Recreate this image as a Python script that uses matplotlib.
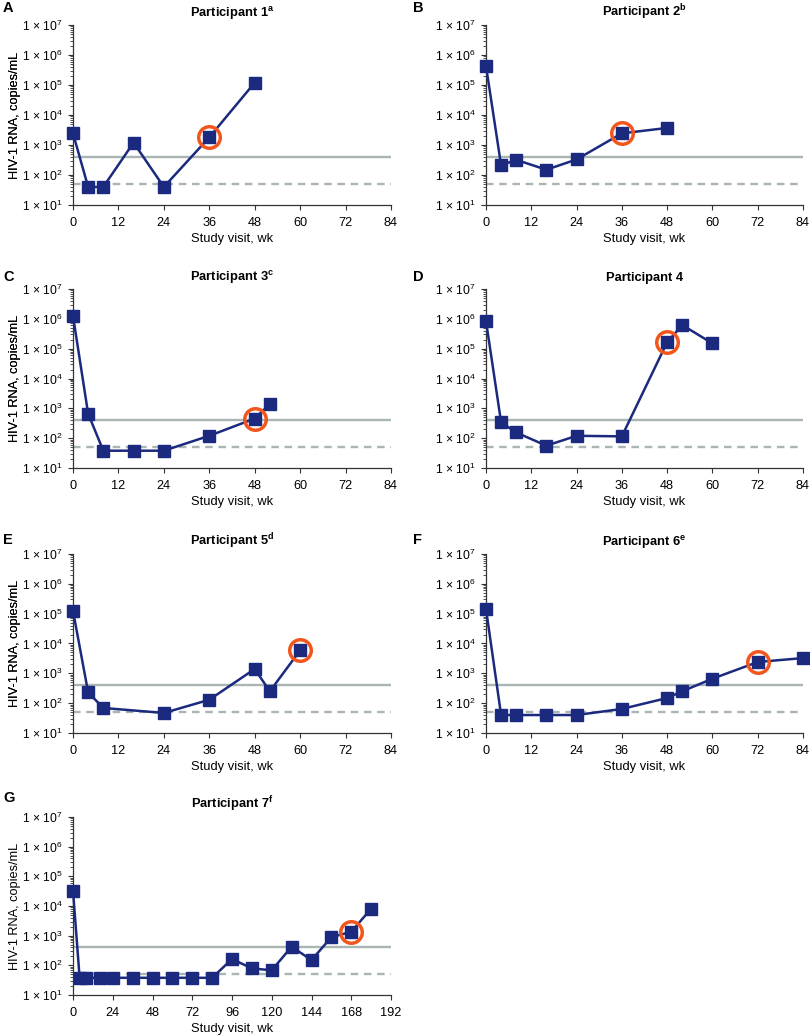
import matplotlib
matplotlib.use("Agg")
import matplotlib.pyplot as plt
from matplotlib.ticker import LogLocator, FixedLocator, FuncFormatter, NullFormatter

plt.rcParams['font.family'] = ['Liberation Sans', 'DejaVu Sans']
plt.rcParams['mathtext.fontset'] = 'custom'
plt.rcParams['mathtext.rm'] = 'Liberation Sans'
plt.rcParams['mathtext.bf'] = 'Liberation Sans:bold'
plt.rcParams['mathtext.it'] = 'Liberation Sans:italic'

# ---- data ----
letters = ["A", "B", "C", "D", "E", "F", "G"]
titles = ["Participant 1$^{\\mathbf{a}}$", "Participant 2$^{\\mathbf{b}}$",
          "Participant 3$^{\\mathbf{c}}$", "Participant 4",
          "Participant 5$^{\\mathbf{d}}$", "Participant 6$^{\\mathbf{e}}$",
          "Participant 7$^{\\mathbf{f}}$"]

p1_wk = [0, 4, 8, 16, 24, 36, 48]
p1_rna = [2450, 40, 40, 1200, 40, 1800, 120000]
p2_wk = [0, 4, 8, 16, 24, 36, 48]
p2_rna = [430000, 210, 320, 150, 330, 2450, 3700]
p3_wk = [0, 4, 8, 16, 24, 36, 48, 52]
p3_rna = [1260000, 660, 38, 38, 38, 120, 455, 1400]
p4_wk = [0, 4, 8, 16, 24, 36, 48, 52, 60]
p4_rna = [850000, 340, 155, 56, 120, 115, 165000, 620000, 150000]
p5_wk = [0, 4, 8, 24, 36, 48, 52, 60]
p5_rna = [125000, 230, 69, 47, 130, 1400, 250, 5900]
p6_wk = [0, 4, 8, 16, 24, 36, 48, 52, 60, 72, 84]
p6_rna = [145000, 40, 40, 40, 40, 64, 149, 250, 660, 2400, 3250]
p7_wk = [0, 4, 8, 16, 24, 36, 48, 60, 72, 84, 96, 108, 120, 132, 144, 156, 168, 180]
p7_rna = [33000, 38, 38, 38, 38, 38, 38, 38, 38, 38, 163, 79, 68, 425, 150, 890, 1350, 8100]

weeks = [p1_wk, p2_wk, p3_wk, p4_wk, p5_wk, p6_wk, p7_wk]
rnas = [p1_rna, p2_rna, p3_rna, p4_rna, p5_rna, p6_rna, p7_rna]
circled_wk = [36, 36, 48, 48, 60, 72, 168]

xticks_std = [0, 12, 24, 36, 48, 60, 72, 84]
xticks_g = [0, 24, 48, 72, 96, 120, 144, 168, 192]
threshold_solid = 400
threshold_dashed = 50

# ---- layout (pixels) ----
W, H = 810, 1036
boxes = [  # left, top, right, bottom
    (73, 25, 391, 205), (486, 25, 803, 205),
    (73, 289, 391, 468), (486, 289, 803, 468),
    (73, 554, 391, 733), (486, 554, 803, 733),
    (73, 817, 391, 995),
]
letter_pos = [(3, 8), (413, 8), (3, 277), (413, 277), (3, 540), (413, 540), (3, 798)]

navy = "#1b2a7e"
orange = "#f2561d"
refcol = "#aab6b4"
spinecol = "#333333"

fig = plt.figure(figsize=(W / 100, H / 100), dpi=100)


def fmt(v, pos):
    import math
    e = int(round(math.log10(v)))
    return "1 \u00d7 10$^{\\mathregular{%d}}$" % e


for i in range(7):
    l, t, r, b = boxes[i]
    ax = fig.add_axes([l / W, 1 - b / H, (r - l) / W, (b - t) / H])
    xmax = 192 if i == 6 else 84
    ax.axhline(threshold_solid, color=refcol, lw=1.7, zorder=1)
    ax.axhline(threshold_dashed, color=refcol, lw=1.7, ls=(0, (3.2, 2.4)), zorder=1)
    ax.plot(weeks[i], rnas[i], color=navy, lw=1.8, marker="s", ms=8,
            mfc=navy, mec=navy, zorder=3, clip_on=False)
    ci = weeks[i].index(circled_wk[i])
    ax.plot([weeks[i][ci]], [rnas[i][ci]], marker="o", ms=15.5, mfc="none",
            mec=orange, mew=2.5, ls="none", zorder=4, clip_on=False)
    ax.set_yscale("log")
    ax.set_ylim(10, 1e7)
    ax.set_xlim(0, xmax)
    ax.xaxis.set_major_locator(FixedLocator(xticks_g if i == 6 else xticks_std))
    ax.yaxis.set_major_locator(LogLocator(base=10, numticks=10))
    ax.yaxis.set_minor_locator(LogLocator(base=10, subs=range(2, 10), numticks=20))
    ax.yaxis.set_major_formatter(FuncFormatter(fmt))
    ax.yaxis.set_minor_formatter(NullFormatter())
    for s in ["top", "right"]:
        ax.spines[s].set_visible(False)
    for s in ["left", "bottom"]:
        ax.spines[s].set_color(spinecol)
        ax.spines[s].set_linewidth(0.9)
    ax.tick_params(axis="x", which="major", labelsize=9.2, color=spinecol,
                   length=3.5, width=0.8, pad=5)
    ax.tick_params(axis="y", which="major", labelsize=8.7, color=spinecol,
                   length=3.5, width=0.8, pad=4)
    ax.tick_params(axis="y", which="minor", color=spinecol, length=2, width=0.6)
    ax.set_xlabel("Study visit, wk", fontsize=9.3, labelpad=3)
    ax.set_ylabel("HIV-1 RNA, copies/mL", fontsize=9.2)
    ax.yaxis.set_label_coords(-(l - 21) / (r - l), 0.5)
    ax.set_title(titles[i], fontsize=9.3, fontweight="bold", pad=6)
    lx, ly = letter_pos[i]
    fig.text(lx / W, 1 - ly / H, letters[i], fontsize=10.5, fontweight="bold",
             va="center", ha="left")

fig.savefig("out.png", dpi=100, facecolor="white")
